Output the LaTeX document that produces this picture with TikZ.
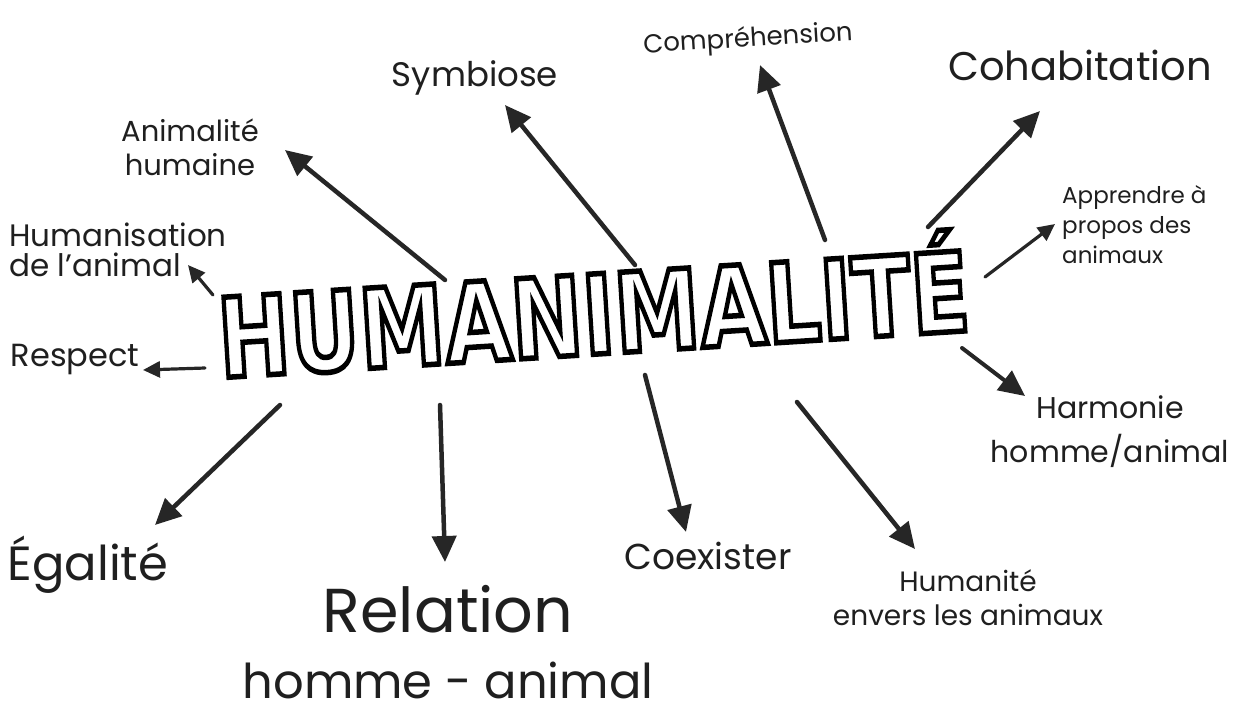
\documentclass[tikz,border=0pt]{standalone}
\usepackage{fontspec}
\setmainfont{Poppins}
\newfontfamily\blockfont{DejaVu Sans}[UprightFont={* Bold}]
\usetikzlibrary{arrows.meta}
\usetikzlibrary{positioning}

% hollow letters (stroke only)
\newcommand{\hollow}[1]{\special{pdf:literal direct 1 Tr 5.5 w}#1\special{pdf:literal direct 0 Tr}}

\begin{document}
\begin{tikzpicture}[x=1pt,y=-1pt,
		idea/.style n args={2}{font=\fontsize{#1}{#2}\selectfont, text=black!88, inner sep=0pt, align=center},
		arr/.style={draw=black!85, line width=4.5pt, line cap=round, -{Triangle[length=26pt,width=24pt]}},
		thinarr/.style={draw=black!85, line width=3.2pt, line cap=round, -{Triangle[length=17pt,width=16pt]}}]
	\useasboundingbox[fill=white] (0,0) rectangle (1233,715);
	% centre word
	\node[rotate=3.6, inner sep=0pt] (hum) at (593,304)
		{\blockfont\fontsize{110}{110}\selectfont\scalebox{0.78}[1]{\hollow{HUMANIMALITÉ}}};
	% ideas around it
	\node[idea={34}{34}] (symb) at (475,78) {Symbiose};
	\node[idea={26}{26}, rotate=3.5] (compr) at (748,40) {Compréhension};
	\node[idea={40}{40}] (cohab) at (1080,65) {Cohabitation};
	\node[idea={29}{34}] (anim) at (190,147) {Animalité\\humaine};
	\node[idea={31}{30}, align=left] (humz) at (118,250) {Humanisation\\de l'animal};
	\node[idea={32}{32}] (resp) at (75,360) {Respect};
	\node[idea={23}{30}, align=left, anchor=west] (appr) at (1062,225) {Apprendre à\\propos des\\animaux};
	\node[idea={30}{44}] (harm) at (1110,432) {Harmonie\\homme/animal};
	\node[idea={48}{48}] (egal) at (88,565) {Égalité};
	\node[idea={48}{66}] (rel) at (448,642) {{\fontsize{62}{66}\selectfont Relation}\\homme - animal};
	\node[idea={36}{36}] (coex) at (708,556) {Coexister};
	\node[idea={28}{34}] (humt) at (968,598) {Humanité\\envers les animaux};
	% arrow ends
	\coordinate (t-anim) at (445,280);  \coordinate (h-anim) at (285,150);
	\coordinate (t-symb) at (635,265);  \coordinate (h-symb) at (505,105);
	\coordinate (t-compr) at (825,240); \coordinate (h-compr) at (760,65);
	\coordinate (t-cohab) at (928,227); \coordinate (h-cohab) at (1040,111);
	\coordinate (t-appr) at (985,277);  \coordinate (h-appr) at (1055,224);
	\coordinate (t-humz) at (213,295);  \coordinate (h-humz) at (188,265);
	\coordinate (t-resp) at (205,368);  \coordinate (h-resp) at (143,370);
	\coordinate (t-harm) at (962,348);  \coordinate (h-harm) at (1025,396);
	\coordinate (t-egal) at (280,405);  \coordinate (h-egal) at (155,525);
	\coordinate (t-rel) at (440,405);   \coordinate (h-rel) at (445,562);
	\coordinate (t-coex) at (645,375);  \coordinate (h-coex) at (686,532);
	\coordinate (t-humt) at (797,402);  \coordinate (h-humt) at (915,549);
	% arrows
	\draw[arr] (t-anim) -- (h-anim);
	\draw[arr] (t-symb) -- (h-symb);
	\draw[arr] (t-compr) -- (h-compr);
	\draw[arr] (t-cohab) -- (h-cohab);
	\draw[thinarr] (t-appr) -- (h-appr);
	\draw[thinarr] (t-humz) -- (h-humz);
	\draw[thinarr] (t-resp) -- (h-resp);
	\draw[arr, line width=4pt] (t-harm) -- (h-harm);
	\draw[arr] (t-egal) -- (h-egal);
	\draw[arr] (t-rel) -- (h-rel);
	\draw[arr] (t-coex) -- (h-coex);
	\draw[arr] (t-humt) -- (h-humt);
\end{tikzpicture}
\end{document}
